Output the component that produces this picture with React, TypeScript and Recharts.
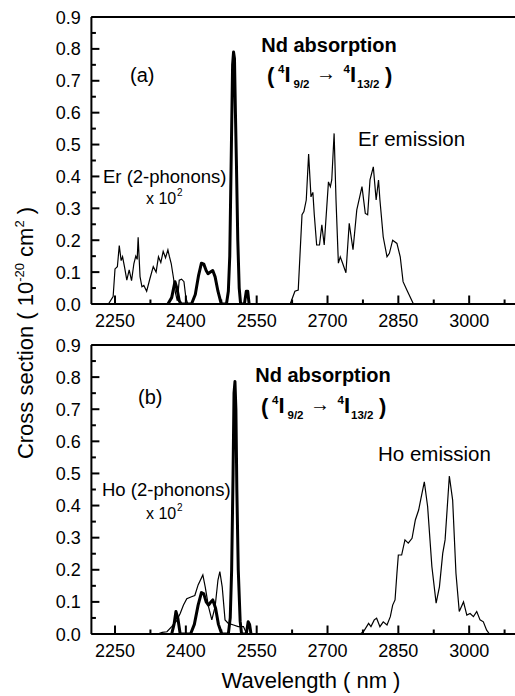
import React from 'react';
import { LineChart, Line, XAxis, YAxis, ReferenceLine } from 'recharts';

const FONT = '"Liberation Sans", Arial, Helvetica, sans-serif';
const TICK_COLOR = '#000';

// Axis ticks
const xTicks = [2250, 2325, 2400, 2475, 2550, 2625, 2700, 2775, 2850, 2925, 3000, 3075];
const xLabelTicks = [2250, 2400, 2550, 2700, 2850, 3000];
const yTicks = [0, 0.05, 0.1, 0.15, 0.2, 0.25, 0.3, 0.35, 0.4, 0.45, 0.5, 0.55, 0.6, 0.65, 0.7, 0.75, 0.8, 0.85, 0.9];

// Panel (a): Er (2-phonons) x 10^2
const erTwoPhonon: [number, number][] = [
  [2236, 0], [2246, 0.023], [2250, 0.11], [2255, 0.117], [2259, 0.183], [2263, 0.136], [2266, 0.148],
  [2270, 0.117], [2275, 0.075], [2280, 0.107], [2285, 0.073], [2290, 0.127], [2294, 0.15], [2297, 0.14],
  [2299, 0.209], [2303, 0.086], [2307, 0.054], [2311, 0.058], [2317, 0.04], [2324, 0.08], [2331, 0.117],
  [2337, 0.1], [2342, 0.148], [2347, 0.13], [2352, 0.165], [2357, 0.145], [2362, 0.17], [2365, 0.15],
  [2369, 0.127], [2374, 0.08], [2378, 0.035], [2382, 0.01], [2386, 0.075], [2391, 0.078], [2396, 0.07],
  [2400, 0.02], [2404, 0],
];

// Panel (a): Er emission
const erEmission: [number, number][] = [
  [2621, 0], [2631, 0.04], [2638, 0.044], [2646, 0.28], [2650, 0.29], [2655, 0.326], [2660, 0.47],
  [2665, 0.336], [2669, 0.35], [2672, 0.28], [2677, 0.185], [2683, 0.185], [2688, 0.248], [2693, 0.185],
  [2702, 0.383], [2706, 0.368], [2709, 0.389], [2714, 0.535], [2718, 0.326], [2723, 0.128], [2727, 0.148],
  [2732, 0.128], [2739, 0.098], [2746, 0.253], [2754, 0.17], [2762, 0.295], [2773, 0.368], [2780, 0.284],
  [2785, 0.28], [2790, 0.389], [2797, 0.43], [2803, 0.326], [2808, 0.389], [2811, 0.326], [2818, 0.21],
  [2826, 0.148], [2831, 0.159], [2838, 0.2], [2847, 0.19], [2854, 0.148], [2860, 0.07], [2868, 0.044],
  [2882, 0],
];

// Panel (a): Nd absorption
const ndAbsorptionA: [number, number][] = [
  [2362, 0], [2370, 0.02], [2377, 0.07], [2381, 0.05], [2386, 0.01], [2390, 0],
  [2412, 0], [2420, 0.03], [2427, 0.09], [2433, 0.128], [2438, 0.125], [2443, 0.105], [2447, 0.095],
  [2452, 0.1], [2457, 0.105], [2462, 0.085], [2468, 0.04], [2475, 0],
  [2486, 0], [2490, 0.04], [2493, 0.15], [2496, 0.45], [2499, 0.75], [2501, 0.79], [2503, 0.77],
  [2505, 0.6], [2507, 0.45], [2510, 0.2], [2513, 0.05], [2516, 0],
  [2524, 0], [2528, 0.04], [2531, 0.04], [2534, 0],
];

// Panel (b): Ho (2-phonons) x 10^2
const hoTwoPhonon: [number, number][] = [
  [2340, 0], [2350, 0.005], [2360, 0.007], [2370, 0.023], [2380, 0.04], [2388, 0.064], [2395, 0.09],
  [2402, 0.11], [2412, 0.116], [2419, 0.12], [2426, 0.153], [2436, 0.184], [2441, 0.147], [2448, 0.085],
  [2455, 0.044], [2462, 0.085], [2468, 0.168], [2472, 0.194], [2477, 0.147], [2483, 0.044], [2490, 0.033],
  [2501, 0.028], [2511, 0.023], [2522, 0.023], [2529, 0],
];

// Panel (b): Ho emission
const hoEmission: [number, number][] = [
  [2716, 0], [2769, 0], [2776, 0.007], [2787, 0.033], [2792, 0.023], [2799, 0.044], [2804, 0.049],
  [2811, 0.023], [2818, 0.038], [2826, 0.028], [2833, 0.054], [2838, 0.09], [2843, 0.106], [2847, 0.189],
  [2850, 0.246], [2857, 0.246], [2864, 0.293], [2871, 0.283], [2879, 0.298], [2886, 0.355], [2893, 0.386],
  [2898, 0.423], [2905, 0.474], [2912, 0.397], [2921, 0.21], [2930, 0.096], [2937, 0.147], [2944, 0.251],
  [2949, 0.293], [2958, 0.492], [2965, 0.417], [2972, 0.189], [2979, 0.07], [2988, 0.1], [2995, 0.059],
  [3002, 0.064], [3009, 0.054], [3016, 0.07], [3023, 0.044], [3030, 0.038], [3037, 0.012], [3043, 0],
];

// Panel (b): Nd absorption
const ndAbsorptionB: [number, number][] = [
  [2370, 0], [2375, 0.03], [2379, 0.07], [2383, 0.05], [2388, 0],
  [2410, 0], [2418, 0.03], [2426, 0.09], [2433, 0.129], [2438, 0.125], [2443, 0.1], [2448, 0.09],
  [2452, 0.098], [2457, 0.106], [2463, 0.08], [2469, 0.03], [2476, 0],
  [2490, 0], [2494, 0.05], [2497, 0.2], [2500, 0.5], [2502, 0.75], [2504, 0.786], [2506, 0.7],
  [2508, 0.45], [2511, 0.2], [2515, 0.04], [2518, 0],
  [2528, 0], [2532, 0.038], [2535, 0.03], [2538, 0],
];

const toPoints = (arr: [number, number][]) => arr.map(([x, y]) => ({ x, y }));

const isMajorX = (v: number) => xLabelTicks.includes(v);
const isMajorY = (v: number) => Math.round(v * 20) % 2 === 0;

// inward tick marks, labels outside
const XTick = (props: any) => {
  const { x, y, payload } = props;
  const v = payload.value;
  const len = isMajorX(v) ? 8.5 : 4.5;
  return (
    <g>
      <rect x={x - 1} y={y - len} width={2} height={len} fill={TICK_COLOR} stroke="none" />
      {isMajorX(v) && (
        <text x={x} y={y + 22.5} textAnchor="middle" fontSize={18} fontFamily={FONT} fill="#000" stroke="none">
          {v}
        </text>
      )}
    </g>
  );
};

const YTick = (props: any) => {
  const { x, y, payload } = props;
  const v = payload.value as number;
  const len = isMajorY(v) ? 8 : 4.5;
  return (
    <g>
      <rect x={x} y={y - 1} width={len} height={2} fill={TICK_COLOR} stroke="none" />
      {isMajorY(v) && (
        <text x={x - 10.5} y={y + 6.5} textAnchor="end" fontSize={18} fontFamily={FONT} fill="#000" stroke="none">
          {v.toFixed(1)}
        </text>
      )}
    </g>
  );
};

const CHART_W = 540;
const PLOT_RIGHT = 516.4;

function Panel({ top, marginTop, thin, thick }: { top: number; marginTop: number; thin: [number, number][][]; thick: [number, number][] }) {
  return (
    <div style={{ position: 'absolute', left: 0, top, width: CHART_W, height: 330 }}>
      <LineChart width={CHART_W} height={330} margin={{ top: marginTop, right: CHART_W - PLOT_RIGHT, bottom: 0, left: 0 }}>
        <XAxis
          type="number"
          dataKey="x"
          domain={[2200, 3100]}
          ticks={xTicks}
          interval={0}
          tickSize={0}
          tickMargin={0}
          tick={<XTick />}
          tickLine={false}
          axisLine={{ stroke: '#000', strokeWidth: 2 }}
          height={26}
          allowDataOverflow
        />
        <YAxis
          type="number"
          dataKey="y"
          domain={[0, 0.9]}
          ticks={yTicks}
          interval={0}
          tickSize={0}
          tickMargin={0}
          tick={<YTick />}
          tickLine={false}
          axisLine={{ stroke: '#000', strokeWidth: 2 }}
          width={91.4}
          allowDataOverflow
        />
        <ReferenceLine y={0.9} stroke="#000" strokeWidth={2} />
        <ReferenceLine x={3100} stroke="#000" strokeWidth={2} />
        {thin.map((s, i) => (
          <Line
            key={'thin' + i}
            data={toPoints(s)}
            dataKey="y"
            type="linear"
            stroke="#000"
            strokeWidth={1.2}
            dot={false}
            activeDot={false}
            isAnimationActive={false}
          />
        ))}
        <Line
          data={toPoints(thick)}
          dataKey="y"
          type="linear"
          stroke="#000"
          strokeWidth={3}
          strokeLinejoin="round"
          dot={false}
          activeDot={false}
          isAnimationActive={false}
        />
      </LineChart>
    </div>
  );
}

function Transition({ dx, dy }: { dx: number; dy: number }) {
  const t = (x: number, y: number, size: number, s: string, w: string = 'bold') => (
    <text x={x + dx} y={y + dy} fontSize={size} fontWeight={w} fontFamily={FONT} fill="#000">{s}</text>
  );
  return (
    <g>
      {t(267, 83, 22, '(')}
      {t(278, 73.3, 11.5, '4')}
      {t(284.5, 81.7, 22, 'I')}
      {t(293.5, 88.3, 11.5, '9/2')}
      {t(316, 80, 20, '→', 'normal')}
      {t(343.5, 73.3, 11.5, '4')}
      {t(350, 81.7, 22, 'I')}
      {t(357, 88.3, 11.5, '13/2')}
      {t(385, 83, 22, ')')}
    </g>
  );
}

function TimesTen({ x, y }: { x: number; y: number }) {
  return (
    <g fontFamily={FONT} fill="#000">
      <text x={x} y={y} fontSize={16}>x 10</text>
      <text x={x + 31} y={y - 8} fontSize={10}>2</text>
    </g>
  );
}

export default function App() {
  return (
    <div style={{ position: 'absolute', left: 0, top: 0, width: 515, height: 696, overflow: 'hidden', background: '#fff' }}>
      <Panel top={0} marginTop={17} thin={[erTwoPhonon, erEmission]} thick={ndAbsorptionA} />
      <Panel top={330} marginTop={15} thin={[hoTwoPhonon, hoEmission]} thick={ndAbsorptionB} />
      <svg width={515} height={696} style={{ position: 'absolute', left: 0, top: 0, pointerEvents: 'none' }}>
        <text x={130} y={82} fontSize={20} fontFamily={FONT}>(a)</text>
        <text x={329} y={52} fontSize={20} fontWeight="bold" fontFamily={FONT} textAnchor="middle">Nd absorption</text>
        <Transition dx={0} dy={0} />
        <text x={358} y={146} fontSize={20.5} fontFamily={FONT}>Er emission</text>
        <text x={103} y={183} fontSize={18.5} fontFamily={FONT}>Er (2-phonons)</text>
        <TimesTen x={146} y={204} />

        <text x={138} y={404} fontSize={20} fontFamily={FONT}>(b)</text>
        <text x={323} y={382} fontSize={20} fontWeight="bold" fontFamily={FONT} textAnchor="middle">Nd absorption</text>
        <Transition dx={-6} dy={331} />
        <text x={378} y={461} fontSize={20.5} fontFamily={FONT}>Ho emission</text>
        <text x={102} y={496} fontSize={18.5} fontFamily={FONT}>Ho (2-phonons)</text>
        <TimesTen x={146} y={519} />

        <text x={311} y={688} fontSize={22} fontFamily={FONT} textAnchor="middle">Wavelength ( nm )</text>
        <text transform="translate(33,333) rotate(-90)" fontSize={22} fontFamily={FONT} textAnchor="middle">
          Cross section ( 10<tspan dy={-9} fontSize={13}>-20</tspan><tspan dy={9}> cm</tspan><tspan dy={-9} fontSize={13}>2</tspan><tspan dy={9}> )</tspan>
        </text>
      </svg>
    </div>
  );
}
